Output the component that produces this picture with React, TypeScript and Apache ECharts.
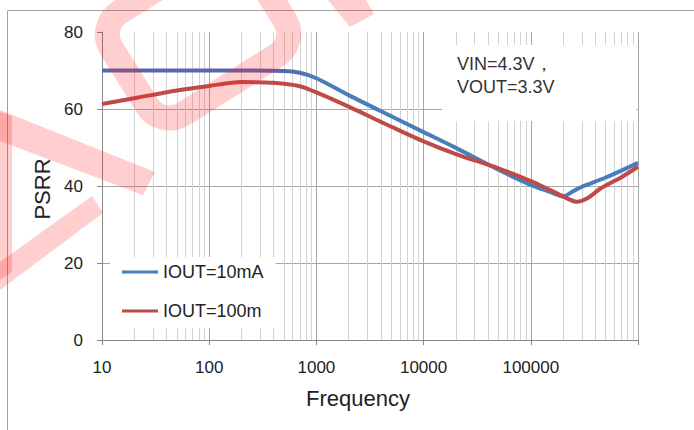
import React, { useEffect, useRef } from "react";
import * as echarts from "echarts";

// ---- data ----
const seriesNames = ["IOUT=10mA", "IOUT=100m"];
const freqBlue = [10, 20, 50, 100, 200, 500, 700, 1000, 2000, 5000, 10000, 20000, 50000, 100000, 150000, 200000, 250000, 300000, 500000, 1000000];
const psrrBlue = [70, 70, 70, 70, 70, 69.9, 69.4, 68.0, 63.6, 58.1, 54.0, 49.9, 44.2, 40.3, 38.5, 37.3, 38.7, 39.8, 42.2, 46.0];
const freqRed = [10, 20, 50, 100, 200, 400, 700, 1000, 2000, 5000, 10000, 20000, 50000, 100000, 150000, 200000, 270000, 340000, 450000, 700000, 1000000];
const psrrRed = [61.3, 62.8, 64.8, 66.0, 67.0, 66.8, 65.9, 64.3, 60.6, 55.4, 51.6, 48.3, 44.6, 41.3, 39.0, 37.3, 35.9, 36.9, 39.4, 42.3, 45.0];
const xTickLabels = ["10", "100", "1000", "10000", "100000"];
const yTicks = { min: 0, max: 80, interval: 20 };
const decades = [10, 100, 1000, 10000, 100000];
const minorMultipliers = [2, 3, 4, 5, 6, 7, 8, 9];
const noteLines = ["VIN=4.3V，", "VOUT=3.3V"];

const FONT = "'Liberation Sans', Arial, sans-serif";
const WM = "rgba(255,30,30,0.22)";
const BLUE = "#4a7ebb";
const RED = "#be4b48";

export default function App() {
  const ref = useRef<HTMLDivElement>(null);
  useEffect(() => {
    if (!ref.current) return;
    const chart = echarts.init(ref.current, null, { renderer: "svg" });
    const minorLines = decades.flatMap((d) => minorMultipliers.map((m) => ({ xAxis: d * m })));
    const blueGradient = new echarts.graphic.LinearGradient(0, 0, 1, 0, [
      { offset: 0, color: "#5866ab" },
      { offset: 0.34, color: "#5866ab" },
      { offset: 0.4, color: BLUE },
      { offset: 1, color: BLUE },
    ]);
    chart.setOption({
      animation: false,
      backgroundColor: "#fff",
      textStyle: { fontFamily: FONT },
      grid: { left: 102, right: 56, top: 32, bottom: 90 },
      title: {
        text: noteLines.join("\n"),
        left: 442,
        top: 45,
        padding: [7, 82, 23, 15],
        backgroundColor: "#fff",
        z: 10,
        textStyle: { fontSize: 18, lineHeight: 23, fontWeight: "normal", color: "#333", fontFamily: FONT },
      },
      legend: {
        data: seriesNames,
        orient: "vertical",
        left: 110,
        top: 257,
        padding: [5, 12, 7, 12],
        backgroundColor: "#fff",
        itemGap: 19,
        itemWidth: 36,
        itemHeight: 3,
        icon: "rect",
        z: 10,
        textStyle: { fontSize: 18, lineHeight: 20, color: "#222", fontFamily: FONT },
      },
      xAxis: {
        type: "log",
        logBase: 10,
        min: 10,
        max: 1000000,
        axisLine: { show: true, lineStyle: { color: "#868686", width: 1 } },
        axisTick: { show: true, length: 5, lineStyle: { color: "#868686" } },
        axisLabel: {
          fontSize: 17,
          color: "#222",
          margin: 19,
          fontFamily: FONT,
          formatter: (v: number) => {
            const e = Math.round(Math.log10(v));
            return xTickLabels[e - 1] ?? "";
          },
        },
        splitLine: { show: true, lineStyle: { color: "#a6a6a6", width: 1 } },
        name: "Frequency",
        nameLocation: "middle",
        nameGap: 47,
        nameTextStyle: { fontSize: 22, color: "#222", fontFamily: FONT, padding: [0, 24, 0, 0] },
      },
      yAxis: {
        type: "value",
        min: yTicks.min,
        max: yTicks.max,
        interval: yTicks.interval,
        axisLine: { show: true, lineStyle: { color: "#868686", width: 1 } },
        axisTick: { show: true, length: 5, lineStyle: { color: "#868686" } },
        axisLabel: { fontSize: 17, color: "#222", margin: 19, fontFamily: FONT },
        splitLine: { show: true, showMaxLine: false, lineStyle: { color: "#a6a6a6", width: 1 } },
        name: "PSRR",
        nameLocation: "middle",
        nameGap: 42,
        nameRotate: 90,
        nameTextStyle: { fontSize: 22, color: "#222", fontFamily: FONT, padding: [0, 6, 0, 0] },
      },
      series: [
        {
          name: seriesNames[0],
          type: "line",
          data: freqBlue.map((f, i) => [f, psrrBlue[i]]),
          smooth: 0.3,
          symbol: "none",
          z: 10,
          lineStyle: { color: blueGradient, width: 4 },
          itemStyle: { color: BLUE },
          markLine: {
            silent: true,
            z: 1,
            symbol: ["none", "none"],
            label: { show: false },
            emphasis: { disabled: true },
            lineStyle: { color: "#d2d2d2", width: 1, type: "solid" },
            data: minorLines,
          },
        },
        {
          name: seriesNames[1],
          type: "line",
          data: freqRed.map((f, i) => [f, psrrRed[i]]),
          smooth: 0.3,
          symbol: "none",
          z: 11,
          lineStyle: { color: RED, width: 4 },
          itemStyle: { color: RED },
        },
      ],
      graphic: [
        {
          type: "polyline",
          silent: true,
          z: 50,
          shape: { points: [[7.5, 430], [7.5, 10.5], [694, 10.5]] },
          style: { stroke: "#a0a0a0", lineWidth: 1, fill: "none" },
        },
        {
          type: "rect",
          silent: true,
          z: 100,
          x: 198,
          y: 34,
          rotation: (32 * Math.PI) / 180,
          shape: { x: -81, y: -60, width: 162, height: 120, r: 26 },
          style: { fill: "none", stroke: WM, lineWidth: 25 },
        },
        {
          type: "polygon",
          silent: true,
          z: 100,
          shape: { points: [[0, 110], [155, 172], [143, 195], [0, 141]] },
          style: { fill: WM },
        },
        {
          type: "polygon",
          silent: true,
          z: 100,
          shape: { points: [[0, 262], [92, 196], [103, 213], [0, 290]] },
          style: { fill: WM },
        },
        {
          type: "polygon",
          silent: true,
          z: 100,
          shape: { points: [[0, 112], [12, 116], [12, 272], [0, 280]] },
          style: { fill: WM },
        },
        {
          type: "polygon",
          silent: true,
          z: 100,
          shape: { points: [[328, 0], [366, 0], [374, 14], [350, 27]] },
          style: { fill: WM },
        },
      ],
    });
    return () => chart.dispose();
  }, []);
  return (
    <div
      ref={ref}
      style={{ position: "fixed", left: 0, top: 0, width: 694, height: 430, background: "#fff" }}
    />
  );
}
